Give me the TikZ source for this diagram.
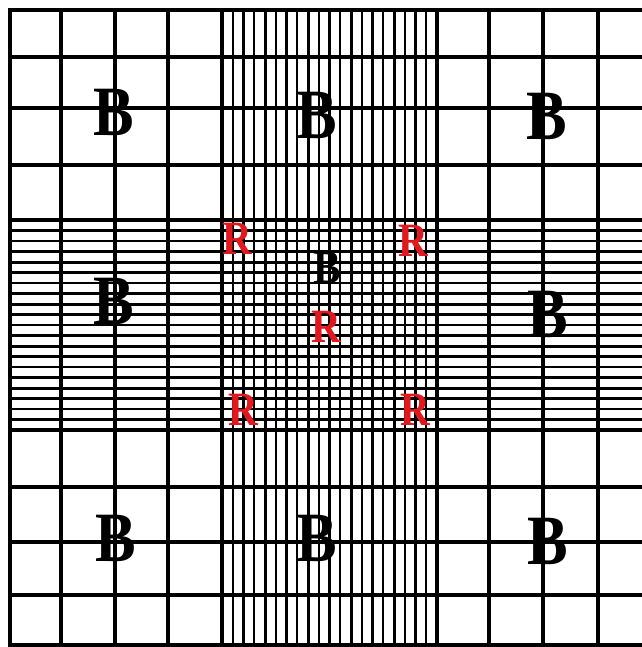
\documentclass[tikz,border=0pt]{standalone}
\usepackage{fontspec}
\setmainfont{Liberation Serif}
\usepackage{graphicx}
\definecolor{rred}{RGB}{225,25,30}
\begin{document}
\begin{tikzpicture}[x=1bp,y=-1bp,
  major/.style={line width=3.8bp,black},
  medium/.style={line width=3bp,black},
  fine/.style={line width=2.1bp,black},
  bigB/.style={inner sep=0,font=\fontsize{71}{71}\selectfont\bfseries},
  smallB/.style={inner sep=0,font=\fontsize{48}{48}\selectfont\bfseries},
  redR/.style={inner sep=0,text=rred,font=\fontsize{48}{48}\selectfont\bfseries}]
\useasboundingbox[fill=white] (0,0) rectangle (642,647);
% fine vertical lines in the central band
\foreach \i in {1,...,19}{
  \pgfmathtruncatemacro{\m}{mod(\i,4)}
  \ifnum\m=0
    \draw[medium] ({222+\i*10.75},10) -- ({222+\i*10.75},647);
  \else
    \draw[fine] ({222+\i*10.75},10) -- ({222+\i*10.75},647);
  \fi
}
% fine horizontal lines in the central band
\foreach \i in {1,...,19}{
  \pgfmathtruncatemacro{\m}{mod(\i,4)}
  \ifnum\m=0
    \draw[medium] (10,{220+\i*10.5}) -- (642,{220+\i*10.5});
  \else
    \draw[fine] (10,{220+\i*10.5}) -- (642,{220+\i*10.5});
  \fi
}
% major grid lines
\foreach \x in {61,115,168,222,437,489,543,598}
  \draw[major] (\x,10) -- (\x,647);
\foreach \y in {57,108,165,220,430,487,542,595,645}
  \draw[major] (10,\y) -- (642,\y);
% border
\draw[line width=4.5bp] (10,647) -- (10,10) -- (642,10);
% letters
\node[bigB] (b1) at (114,112) {\scalebox{0.86}[1]{B}};
\node[bigB] (b2) at (317,115) {\scalebox{0.86}[1]{B}};
\node[bigB] (b3) at (547,116) {\scalebox{0.86}[1]{B}};
\node[bigB] (b4) at (114,301) {\scalebox{0.86}[1]{B}};
\node[bigB] (b5) at (548,314) {\scalebox{0.86}[1]{B}};
\node[bigB] (b6) at (116,538) {\scalebox{0.86}[1]{B}};
\node[bigB] (b7) at (317,538) {\scalebox{0.86}[1]{B}};
\node[bigB] (b8) at (548,541) {\scalebox{0.86}[1]{B}};
\node[smallB] (b9) at (327,268) {\scalebox{0.86}[1]{B}};
\node[redR] (r1) at (237,239) {\scalebox{0.86}[1]{R}};
\node[redR] (r2) at (413,241) {\scalebox{0.86}[1]{R}};
\node[redR] (r3) at (326,327) {\scalebox{0.86}[1]{R}};
\node[redR] (r4) at (243,410) {\scalebox{0.86}[1]{R}};
\node[redR] (r5) at (415,410) {\scalebox{0.86}[1]{R}};
\end{tikzpicture}
\end{document}
